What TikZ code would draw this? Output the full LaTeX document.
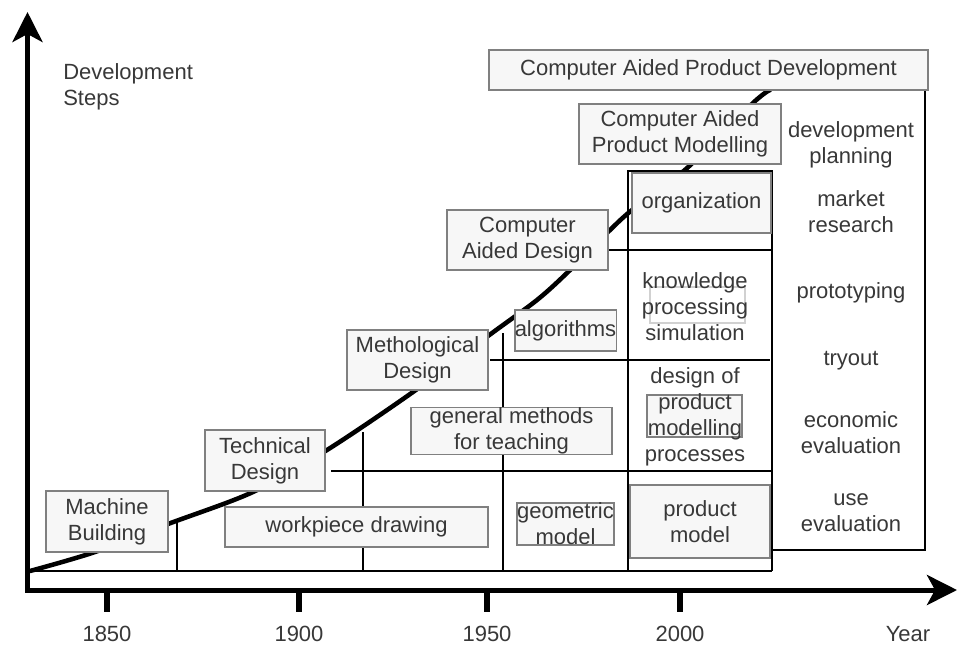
\documentclass[tikz,border=0pt]{standalone}
\usepackage{fontspec}
\setmainfont{Liberation Sans}
\usetikzlibrary{arrows.meta}
\begin{document}
\begin{tikzpicture}[x=0.75pt,y=-0.75pt,
  txt/.style={font=\fontsize{16.5}{19.5}\selectfont, text=black!78, align=center, inner sep=0pt},
  gbox/.style={txt, draw=black!50, fill=black!3, line width=1.1pt},
  faintbox/.style={draw=black!18, line width=0.8pt, inner sep=0pt},
  wh/.style 2 args={minimum width=#1*0.75pt, minimum height=#2*0.75pt},
  axis/.style={line width=3.75pt, -{Stealth[length=22.5pt,width=22.5pt,inset=6pt]}},
  tickmark/.style={line width=4.5pt},
  gridline/.style={line width=1.1pt},
  trend/.style={line width=3.4pt, line cap=round},
]
\useasboundingbox (0,0) rectangle (959,646);

% axes
\coordinate (origin) at (27.5,590);
\coordinate (ytip) at (27.5,12);
\coordinate (xtip) at (957,590);
\draw[axis] (27.5,592) -- (ytip);
\draw[axis] (25,590) -- (xtip);

% year ticks and labels (set on a common baseline)
\foreach \xx/\yr in {107/1850, 299/1900, 487/1950, 680/2000}{
  \draw[tickmark] (\xx,590) -- (\xx,612);
  \node[txt, anchor=base] (y\yr) at (\xx,641) {\yr};
}
\node[txt, anchor=base] (year) at (908,641) {Year};
\node[txt, align=left, anchor=west] (steps) at (63,87) {Development\\Steps};

% development trend
\draw[trend] plot[smooth, tension=0.5] coordinates {(30,571) (95,552) (168,524) (253,492) (327,450) (413,392) (488,336) (537,300) (568,272) (608,232) (632,210) (686,169) (753,103) (770,90)};

% grid of eras
\draw[gridline] (30,571) -- (772,571);
\draw[gridline] (177,521) -- (177,571);
\draw[gridline] (363,432) -- (363,571);
\draw[gridline] (331,471) -- (772,471);
\draw[gridline] (503,333) -- (503,571);
\draw[gridline] (490,360) -- (770,360);
\draw[gridline] (608,250) -- (772,250);
\draw[gridline] (628,571) -- (628,171) -- (772,171) -- (772,571);
\draw[gridline] (772,550) -- (925,550) -- (925,90);

% development steps
\node[gbox, wh={439}{40}] (capd) at (708.5,70) {Computer Aided Product Development};
\node[gbox, wh={202}{60}] (capm) at (680,134) {Computer Aided\\Product Modelling};
\node[gbox, wh={161}{60}] (cad) at (527.5,240) {Computer\\Aided Design};
\node[gbox, wh={141}{60}] (md) at (417.5,360) {Methological\\Design};
\node[gbox, wh={120}{61}] (td) at (265,460.5) {Technical\\Design};
\node[gbox, wh={122}{61}] (mb) at (107,521.5) {Machine\\Building};

% methods and tools
\node[gbox, wh={139}{60}] (org) at (701.5,203) {organization};
\node[gbox, wh={263}{40}] (wpd) at (356.5,527) {workpiece drawing};
\node[gbox, wh={201}{40}] (gmt) at (511.5,431) {general methods\\for teaching};
\node[gbox, wh={93}{41}] (alg) at (565.5,330.5) {algorithms};
\node[gbox, wh={93}{42}] (geo) at (565.5,524) {geometric\\model};
\node[gbox, wh={140}{73}] (pm) at (700,521.5) {product\\model};

\node[faintbox, wh={95}{36}] (kpsbox) at (697.5,305) {};
\node[txt] (kps) at (695,307) {knowledge\\processing\\simulation};
\node[gbox, wh={95}{42}] (pmbox) at (694.5,416) {};
\node[txt] (dpm) at (695,417) {design of\\product\\modelling\\processes};

% activities
\node[txt] (dp) at (851,145) {development\\planning};
\node[txt] (mr) at (851,212) {market\\research};
\node[txt] (pt) at (851,293) {prototyping};
\node[txt] (to) at (851,361) {tryout};
\node[txt] (ee) at (851,432.5) {economic\\evaluation};
\node[txt] (ue) at (851,512.5) {use\\evaluation};
\end{tikzpicture}
\end{document}
